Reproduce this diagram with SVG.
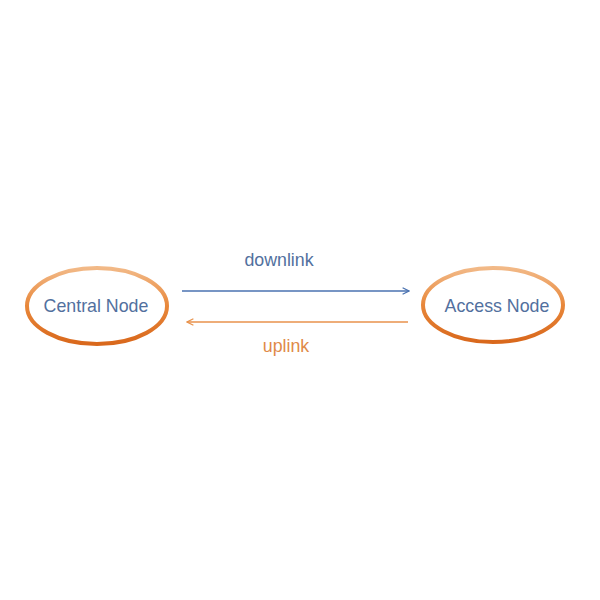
<svg xmlns="http://www.w3.org/2000/svg" width="600" height="600" viewBox="0 0 600 600">
<defs>
<linearGradient id="ring" x1="0" y1="0" x2="0" y2="1">
<stop offset="0" stop-color="#f2b987"/>
<stop offset="0.5" stop-color="#e8873a"/>
<stop offset="1" stop-color="#d9681c"/>
</linearGradient>
<marker id="ab" viewBox="0 0 10 10" refX="9" refY="5" markerWidth="8" markerHeight="8" markerUnits="userSpaceOnUse" orient="auto">
<path d="M1,1 L9,5 L1,9" fill="none" stroke="#4a72b0" stroke-width="1.6"/>
</marker>
<marker id="ao" viewBox="0 0 10 10" refX="9" refY="5" markerWidth="8" markerHeight="8" markerUnits="userSpaceOnUse" orient="auto">
<path d="M1,1 L9,5 L1,9" fill="none" stroke="#e8924c" stroke-width="1.6"/>
</marker>
</defs>
<style>
.node ellipse{fill:#ffffff;stroke:url(#ring);stroke-width:4}
.node text{font-family:"Liberation Sans",Arial,sans-serif;font-size:17.8px;fill:#52709e;text-anchor:middle}
.lbl{font-family:"Liberation Sans",Arial,sans-serif;font-size:17.8px;text-anchor:middle}
</style>
<rect width="600" height="600" fill="#ffffff"/>
<g id="central-node" class="node">
<ellipse cx="97" cy="306" rx="70" ry="38"/>
<text x="96" y="312">Central Node</text>
</g>
<g id="access-node" class="node">
<ellipse cx="493" cy="305" rx="70" ry="37"/>
<text x="497" y="312">Access Node</text>
</g>
<g id="connectors">
<line x1="182" y1="291" x2="409" y2="291" stroke="#4a72b0" stroke-width="1.6" marker-end="url(#ab)"/>
<line x1="408" y1="322" x2="187" y2="322" stroke="#e8924c" stroke-width="1.6" marker-end="url(#ao)"/>
<text class="lbl" x="279" y="266" fill="#52709e">downlink</text>
<text class="lbl" x="286" y="352" fill="#e08a48">uplink</text>
</g>
</svg>
